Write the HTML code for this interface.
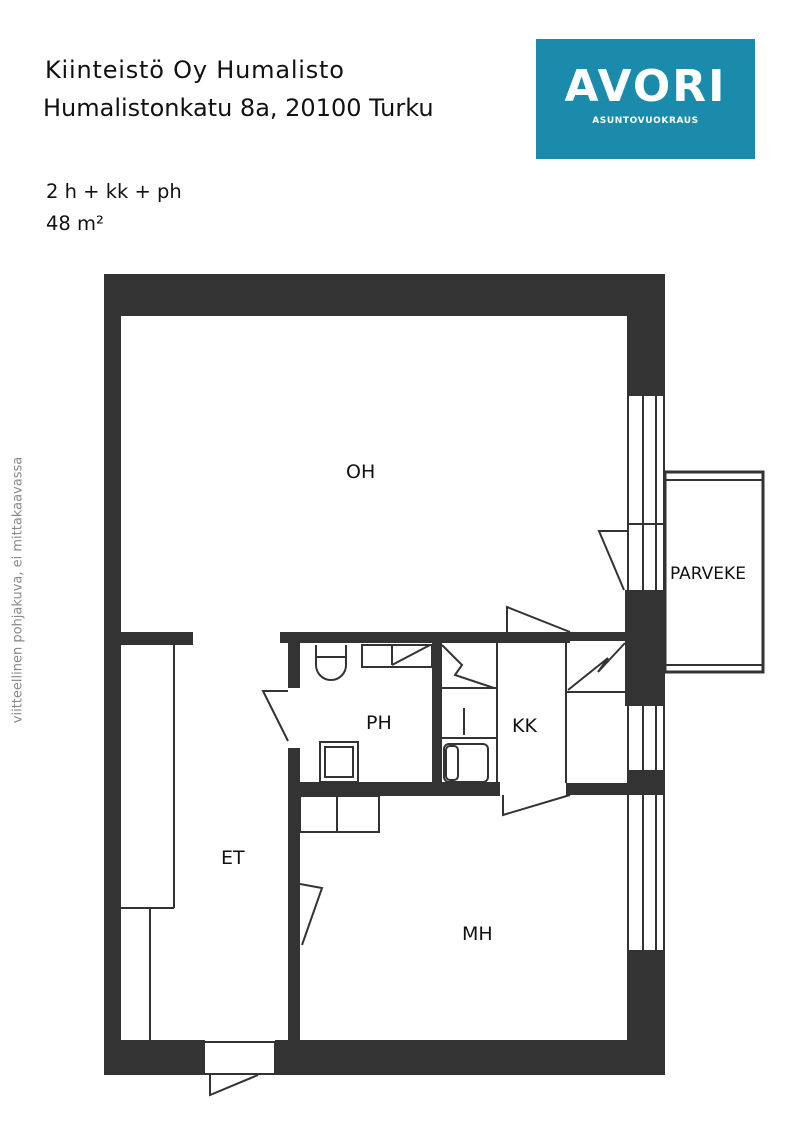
<!DOCTYPE html>
<html><head><meta charset="utf-8"><style>
html,body{margin:0;padding:0;background:#fff;width:794px;height:1123px;overflow:hidden}
.t{position:absolute;font-family:"DejaVu Sans","Liberation Sans",sans-serif;color:#111;white-space:nowrap}
</style></head><body>
<div class="t" style="left:45px;top:56px;font-size:24px;letter-spacing:0.8px">Kiinteistö Oy Humalisto</div>
<div class="t" style="left:43px;top:94px;font-size:24px">Humalistonkatu 8a, 20100 Turku</div>
<div class="t" style="left:46px;top:180px;font-size:19.5px">2 h + kk + ph</div>
<div class="t" style="left:46px;top:212px;font-size:19.5px">48 m²</div>
<div style="position:absolute;left:536px;top:39px;width:219px;height:120px;background:#1a8bab"></div>
<div class="t" style="left:536px;top:61px;width:219px;text-align:center;color:#fff;font-size:44px;font-weight:bold;letter-spacing:2px;font-family:'DejaVu Sans',sans-serif">AVORI</div>
<div class="t" style="left:536px;top:116px;width:219px;text-align:center;color:#fff;font-size:9px;font-weight:bold;letter-spacing:0.6px">ASUNTOVUOKRAUS</div>
<div class="t" style="left:18px;top:590px;font-size:13px;color:#888;transform:translate(-50%,-50%) rotate(-90deg);transform-origin:center">viitteellinen pohjakuva, ei mittakaavassa</div>
<svg style="position:absolute;left:0;top:0" width="794" height="1123" viewBox="0 0 794 1123">
<g fill="#333">
<rect x="104" y="274" width="561" height="42"/>
<rect x="104" y="274" width="17" height="801"/>
<rect x="104" y="1040" width="561" height="35"/>
<rect x="627" y="274" width="38" height="122"/>
<rect x="625" y="590" width="40" height="116"/>
<rect x="627" y="770" width="38" height="25"/>
<rect x="627" y="950" width="38" height="125"/>
<rect x="121" y="632" width="72" height="13"/>
<rect x="280" y="632" width="290" height="11"/>
<rect x="570" y="632" width="57" height="9"/>
<rect x="288" y="632" width="12" height="56"/>
<rect x="288" y="748" width="12" height="292"/>
<rect x="300" y="782" width="200" height="14"/>
<rect x="566" y="783" width="61" height="12"/>
<rect x="432" y="643" width="10" height="140"/>
</g>
<rect x="205" y="1040" width="70" height="35" fill="#fff"/>
<g fill="none" stroke="#333" stroke-width="2">
<line x1="628" y1="396" x2="628" y2="590"/><line x1="643" y1="396" x2="643" y2="590"/><line x1="656" y1="396" x2="656" y2="590"/><line x1="664" y1="396" x2="664" y2="590"/>
<line x1="628" y1="706" x2="628" y2="770"/><line x1="643" y1="706" x2="643" y2="770"/><line x1="656" y1="706" x2="656" y2="770"/><line x1="664" y1="706" x2="664" y2="770"/>
<line x1="628" y1="795" x2="628" y2="950"/><line x1="643" y1="795" x2="643" y2="950"/><line x1="656" y1="795" x2="656" y2="950"/><line x1="664" y1="795" x2="664" y2="950"/>
<line x1="627" y1="524" x2="665" y2="524"/>
<rect x="665" y="472" width="98" height="200" stroke-width="3"/>
<line x1="665" y1="480" x2="762" y2="480"/><line x1="665" y1="665" x2="762" y2="665"/>
<polyline points="627,531 599,531 624,590"/>
<line x1="174" y1="645" x2="174" y2="908"/><line x1="121" y1="908" x2="174" y2="908"/><line x1="150" y1="908" x2="150" y2="1040"/>
<polyline points="288,691 263,691 288,741"/>
<path d="M316,645 v20 a15,15 0 0 0 30,0 v-20"/><line x1="316" y1="657" x2="346" y2="657"/>
<rect x="362" y="645" width="70" height="22"/><line x1="392" y1="645" x2="392" y2="665"/><line x1="392" y1="665" x2="430" y2="645"/>
<rect x="320" y="742" width="38" height="40"/><rect x="325" y="747" width="28" height="30"/>
<line x1="497" y1="643" x2="497" y2="783"/><line x1="566" y1="643" x2="566" y2="783"/>
<line x1="442" y1="688" x2="497" y2="688"/><line x1="442" y1="738" x2="497" y2="738"/>
<line x1="464" y1="708" x2="464" y2="735"/>
<rect x="444" y="744" width="44" height="38" rx="5"/><rect x="446" y="746" width="12" height="34" rx="4"/>
<polyline points="442,645 462,665 455,675 494,688"/>
<line x1="566" y1="692" x2="627" y2="692"/>
<polyline points="568,690 608,658 598,672 625,643"/>
<polyline points="570,632 507,607 507,632"/>
<polyline points="570,795 503,815 503,795"/>
<rect x="300" y="796" width="79" height="36"/><line x1="337" y1="796" x2="337" y2="832"/>
<polyline points="300,884 322,888 302,945"/>
<rect x="202" y="1042" width="73" height="32" stroke="#333"/>
<polyline points="210,1075 210,1095 258,1075"/>
</g>
<g font-family="DejaVu Sans,Liberation Sans,sans-serif" font-size="19" fill="#111">
<text x="346" y="478">OH</text>
<text x="670" y="579" font-size="17">PARVEKE</text>
<text x="366" y="729">PH</text>
<text x="512" y="732">KK</text>
<text x="221" y="864">ET</text>
<text x="462" y="940">MH</text>
</g>
</svg>
</body></html>
